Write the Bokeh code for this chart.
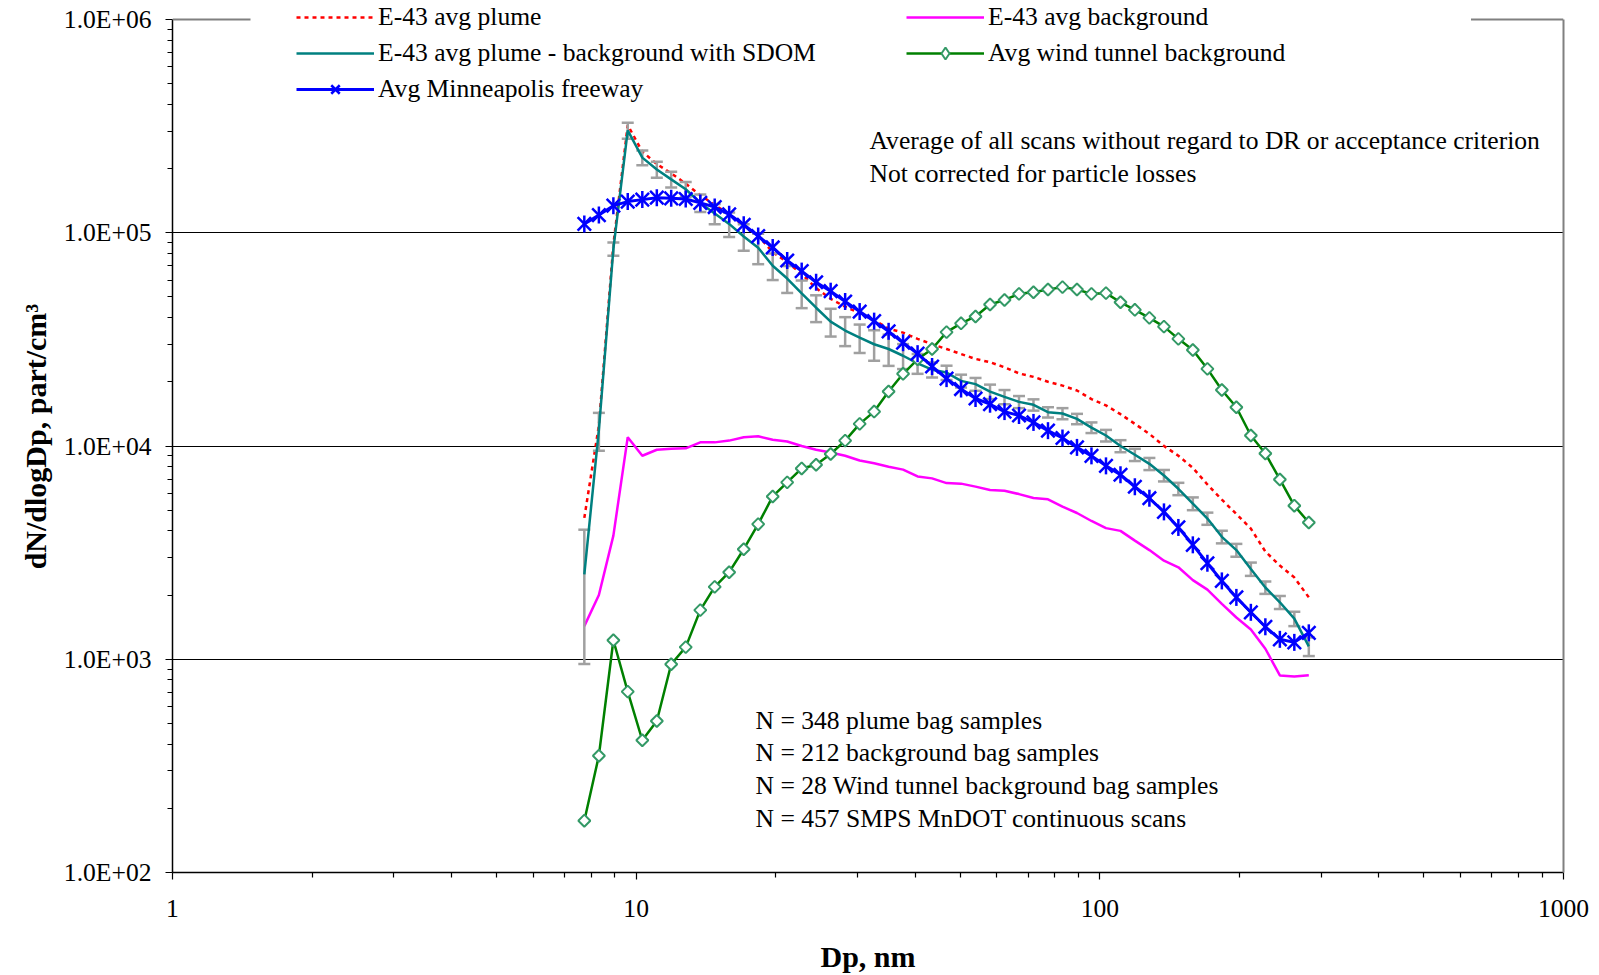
import numpy as np
from bokeh.plotting import figure
from bokeh.models import (Range1d, FixedTicker, CustomJSTickFormatter, Legend,
                          LegendItem, Label, LogAxis, Span, BoxAnnotation)
from bokeh.embed import file_html
from bokeh.resources import INLINE

# ---------------- data ----------------
dp = [7.73, 8.31, 8.93, 9.59, 10.31, 11.08, 11.90, 12.79, 13.75, 14.77,
      15.87, 17.06, 18.33, 19.70, 21.17, 22.75, 24.44, 26.27, 28.23, 30.34,
      32.60, 35.03, 37.64, 40.45, 43.47, 46.71, 50.20, 53.94, 57.97, 62.29,
      66.94, 71.93, 77.30, 83.07, 89.27, 95.93, 103.1, 110.8, 119.0, 127.9,
      137.5, 147.7, 158.7, 170.6, 183.3, 197.0, 211.7, 227.5, 244.5, 262.7,
      282.3]

plume = [4.6e3, 1.25e4, 8.8e4, 3.2e5, 2.4e5, 2.1e5, 1.9e5, 1.7e5, 1.5e5, 1.35e5,
         1.22e5, 1.08e5, 9.7e4, 8.1e4, 7.3e4, 6.4e4, 5.5e4, 4.9e4, 4.5e4, 4.2e4,
         3.9e4, 3.55e4, 3.4e4, 3.18e4, 3.0e4, 2.85e4, 2.7e4, 2.56e4, 2.47e4, 2.34e4,
         2.19e4, 2.11e4, 2.0e4, 1.92e4, 1.82e4, 1.66e4, 1.55e4, 1.41e4, 1.27e4, 1.14e4,
         1.0e4, 9.0e3, 7.9e3, 6.6e3, 5.6e3, 4.8e3, 4.1e3, 3.2e3, 2.75e3, 2.42e3,
         1.95e3]

plume_minus_bg = [2.5e3, 1.19e4, 8.4e4, 3.02e5, 2.25e5, 1.98e5, 1.78e5, 1.60e5, 1.38e5, 1.23e5,
                  1.10e5, 9.6e4, 8.5e4, 7.0e4, 6.1e4, 5.2e4, 4.45e4, 3.83e4, 3.48e4, 3.22e4,
                  3.0e4, 2.85e4, 2.65e4, 2.44e4, 2.28e4, 2.21e4, 2.02e4, 1.95e4, 1.80e4, 1.70e4,
                  1.61e4, 1.56e4, 1.44e4, 1.42e4, 1.34e4, 1.22e4, 1.12e4, 1.0e4, 9.1e3, 8.25e3,
                  7.27e3, 6.3e3, 5.37e3, 4.57e3, 3.75e3, 3.25e3, 2.65e3, 2.17e3, 1.85e3, 1.55e3,
                  1.15e3]

sdom = [1.55e3, 2.4e3, 6.0e3, 2.6e4, 1.8e4, 1.7e4, 1.5e4, 1.3e4, 1.3e4, 1.35e4,
        1.45e4, 1.37e4, 1.38e4, 1.0e4, 8.8e3, 7.7e3, 6.4e3, 5.7e3, 5.4e3, 4.9e3,
        4.9e3, 4.75e3, 3.55e3, 2.6e3, 1.85e3, 1.7e3, 1.4e3, 1.35e3, 1.4e3, 1.3e3,
        1.05e3, 9.5e2, 8.0e2, 8.5e2, 7.5e2, 7.0e2, 7.0e2, 6.5e2, 6.0e2, 5.4e2,
        4.5e2, 4.2e2, 3.7e2, 3.0e2, 2.55e2, 2.25e2, 1.9e2, 1.45e2, 1.3e2, 1.2e2,
        1.15e2]

background = [1.43e3, 2.0e3, 3.8e3, 1.1e4, 9.0e3, 9.6e3, 9.7e3, 9.75e3, 1.04e4, 1.04e4,
              1.06e4, 1.10e4, 1.11e4, 1.07e4, 1.05e4, 1.0e4, 9.6e3, 9.33e3, 9.0e3, 8.55e3,
              8.3e3, 8.0e3, 7.75e3, 7.2e3, 7.05e3, 6.7e3, 6.66e3, 6.45e3, 6.22e3, 6.17e3,
              5.95e3, 5.7e3, 5.62e3, 5.2e3, 4.85e3, 4.45e3, 4.12e3, 4.0e3, 3.6e3, 3.25e3,
              2.9e3, 2.7e3, 2.35e3, 2.12e3, 1.82e3, 1.57e3, 1.38e3, 1.12e3, 8.4e2, 8.3e2,
              8.42e2]

wind_tunnel = [175, 353, 1228, 705, 417, 513, 948, 1140, 1700, 2185,
               2560, 3280, 4300, 5800, 6750, 7850, 8170, 9170, 10600, 12700,
               14500, 18000, 21800, 25500, 28500, 34200, 37600, 40500, 46100, 48400,
               51700, 52600, 54200, 55600, 54200, 51700, 52100, 47200, 43500, 39900,
               36300, 31800, 28200, 23000, 18300, 15200, 11200, 9230, 6970, 5250,
               4380]

freeway = [1.10e5, 1.21e5, 1.34e5, 1.40e5, 1.43e5, 1.46e5, 1.45e5, 1.44e5, 1.38e5, 1.32e5,
           1.22e5, 1.09e5, 9.65e4, 8.53e4, 7.41e4, 6.61e4, 5.86e4, 5.32e4, 4.76e4, 4.27e4,
           3.85e4, 3.45e4, 3.05e4, 2.71e4, 2.36e4, 2.07e4, 1.85e4, 1.67e4, 1.57e4, 1.45e4,
           1.39e4, 1.29e4, 1.18e4, 1.09e4, 9.85e3, 8.99e3, 8.07e3, 7.33e3, 6.44e3, 5.69e3,
           4.91e3, 4.15e3, 3.44e3, 2.82e3, 2.33e3, 1.95e3, 1.66e3, 1.42e3, 1.24e3, 1.20e3,
           1.33e3]

series_names = ["E-43 avg plume", "E-43 avg plume - background with SDOM",
                "Avg Minneapolis freeway", "E-43 avg background",
                "Avg wind tunnel background"]

x_ticks = [1, 10, 100, 1000]
x_tick_labels = ["1", "10", "100", "1000"]
y_ticks = [1e2, 1e3, 1e4, 1e5, 1e6]
y_tick_labels = ["1.0E+02", "1.0E+03", "1.0E+04", "1.0E+05", "1.0E+06"]

notes_top = ["Average of all scans without regard to DR or acceptance criterion",
             "Not corrected for particle losses"]
notes_bottom = ["N = 348 plume bag samples", "N = 212 background bag samples",
                "N = 28 Wind tunnel background bag samples",
                "N = 457 SMPS MnDOT continuous scans"]

# ---------------- layout constants ----------------
FONT = "Liberation Serif"
FS = "25.6px"
FL, FR, FT, FB = 172, 1563, 19, 872      # axes box edges in canvas px
W, H = 1599, 975
DEC_PX = (FB - FT) / 4.0                 # pixels per decade (y)
Y_TOP = 10 ** (6 + FT / DEC_PX)          # frame extends to canvas top (room for legend)


def px_x(px):
    return 10 ** ((px - FL) / (FR - FL) * 3.0)


def px_y(py):
    return 10 ** (6.0 - (py - FT) / DEC_PX)


p = figure(width=W, height=H, x_axis_type="log", y_axis_type="log",
           x_range=Range1d(1, 1000), y_range=Range1d(100, Y_TOP),
           output_backend="svg", toolbar_location=None,
           min_border_left=FL, min_border_right=W - FR,
           min_border_top=0, min_border_bottom=H - FB)
p.title.visible = False
p.background_fill_color = "white"
p.border_fill_color = "white"
p.outline_line_color = None

# grid
p.xgrid.visible = False
p.ygrid.ticker = FixedTicker(ticks=y_ticks[1:-1])
p.ygrid.grid_line_color = "black"
p.ygrid.grid_line_width = 1

# axes
minor_x = [m * 10 ** e for e in range(0, 3) for m in range(2, 10)]
minor_y = [m * 10 ** e for e in range(2, 6) for m in range(2, 10)]
p.xaxis.ticker = FixedTicker(ticks=x_ticks, minor_ticks=minor_x)
p.yaxis.ticker = FixedTicker(ticks=y_ticks, minor_ticks=minor_y)
fmt_code = """
let best = 0, bd = 1e9;
for (let i = 0; i < tvals.length; i++) {
  const d = Math.abs(Math.log10(tick) - Math.log10(tvals[i]));
  if (d < bd) { bd = d; best = i; }
}
return tlabs[best];
"""
p.xaxis.formatter = CustomJSTickFormatter(args=dict(tvals=x_ticks, tlabs=x_tick_labels), code=fmt_code)
p.yaxis.formatter = CustomJSTickFormatter(args=dict(tvals=y_ticks, tlabs=y_tick_labels), code=fmt_code)
p.yaxis.bounds = (y_ticks[0], y_ticks[-1])

for ax in (p.xaxis[0], p.yaxis[0]):
    ax.axis_line_color = "black"
    ax.axis_line_width = 1.5
    ax.major_tick_line_color = "black"
    ax.minor_tick_line_color = "black"
    ax.major_tick_line_width = 1.2
    ax.minor_tick_line_width = 1.2
    ax.major_tick_in = 0
    ax.minor_tick_in = 0
    ax.major_tick_out = 7
    ax.minor_tick_out = 5
    ax.major_label_text_font = FONT
    ax.major_label_text_font_size = FS
    ax.major_label_text_color = "black"
    ax.axis_label_text_font = FONT
    ax.axis_label_text_font_size = "30px"
    ax.axis_label_text_font_style = "bold"
    ax.axis_label_text_color = "black"

p.xaxis.axis_label = "Dp, nm"
p.xaxis.major_label_standoff = 20
p.xaxis.axis_label_standoff = 20
p.yaxis.axis_label = "dN/dlogDp, part/cm\u00b3"
p.yaxis.major_label_standoff = 14
p.yaxis.axis_label_standoff = 9

# right border (gray) and top border (gray, mostly hidden by the legend)
right_border = LogAxis(ticker=FixedTicker(ticks=[]), bounds=(y_ticks[0], y_ticks[-1]),
                       axis_line_color="#808080", axis_line_width=2,
                       major_tick_out=0, minor_tick_out=0, major_tick_in=0, minor_tick_in=0)
p.add_layout(right_border, "right")
p.add_layout(Span(location=y_ticks[-1], dimension="width", line_color="#808080", line_width=2))
# white patch: legend area begins a little left of the first legend glyph
p.add_layout(BoxAnnotation(left=px_x(250), right=px_x(300), top=px_y(FT - 6), bottom=px_y(FT + 6),
                           fill_color="white", fill_alpha=1.0, line_color=None))

# ---------------- series ----------------
r_plume = p.line(dp, plume, line_color="#FF0000", line_width=2.5, line_dash="4 4")
r_bg = p.line(dp, background, line_color="#FF00FF", line_width=2.5)

upper = [m + s for m, s in zip(plume_minus_bg, sdom)]
lower = [m - s for m, s in zip(plume_minus_bg, sdom)]
ERR = "#A0A0A0"
p.segment(x0=dp, y0=lower, x1=dp, y1=upper, line_color=ERR, line_width=2.5)
p.scatter(dp, upper, marker="dash", size=12, line_color=ERR, line_width=2.5)
p.scatter(dp, lower, marker="dash", size=12, line_color=ERR, line_width=2.5)
r_teal = p.line(dp, plume_minus_bg, line_color="#008080", line_width=2.5)

r_wl = p.line(dp, wind_tunnel, line_color="#008000", line_width=2.5)
p.scatter(dp, wind_tunnel, marker="square", angle=np.pi / 4, size=8.5,
          line_color="#339966", line_width=2, fill_color="white")
# legend-only proxy (the legend does not rotate markers)
r_wm_leg = p.scatter([np.nan], [np.nan], marker="diamond", size=11,
                     line_color="#339966", line_width=2, fill_color="white")

r_fl = p.line(dp, freeway, line_color="#0000FF", line_width=3)
r_fx = p.scatter(dp, freeway, marker="x", size=19, line_color="#0000FF", line_width=2.5)
r_fv = p.scatter(dp, freeway, marker="dash", angle=np.pi / 2, size=17,
                 line_color="#0000FF", line_width=2.5)

# ---------------- legends (two columns) ----------------
def make_legend(items, loc, label_width):
    leg = Legend(items=items, location=loc, orientation="vertical")
    leg.background_fill_color = "white"
    leg.background_fill_alpha = 1.0
    leg.border_line_color = None
    leg.label_text_font = FONT
    leg.label_text_font_size = FS
    leg.label_text_color = "black"
    leg.glyph_width = 78
    leg.glyph_height = 30
    leg.label_height = 30
    leg.label_width = label_width
    leg.label_standoff = 4
    leg.spacing = 6
    leg.padding = 2
    leg.margin = 0
    return leg

leg_a = make_legend([
    LegendItem(label=series_names[0], renderers=[r_plume]),
    LegendItem(label=series_names[1], renderers=[r_teal]),
    LegendItem(label=series_names[2], renderers=[r_fl, r_fx, r_fv]),
], (124, 768), 530)
leg_b = make_legend([
    LegendItem(label=series_names[3], renderers=[r_bg]),
    LegendItem(label=series_names[4], renderers=[r_wl, r_wm_leg]),
], (734, 804), 483)
p.add_layout(leg_a)
p.add_layout(leg_b)

# ---------------- notes ----------------
for txt, py in zip(notes_top, [140, 173]):
    p.add_layout(Label(x=px_x(869), y=px_y(py), text=txt, text_font=FONT,
                       text_font_size=FS, text_baseline="middle", text_color="black"))
for txt, py in zip(notes_bottom, [720, 752, 785, 818]):
    p.add_layout(Label(x=px_x(755), y=px_y(py), text=txt, text_font=FONT,
                       text_font_size=FS, text_baseline="middle", text_color="black"))

open("out.html", "w").write(file_html(p, INLINE))
